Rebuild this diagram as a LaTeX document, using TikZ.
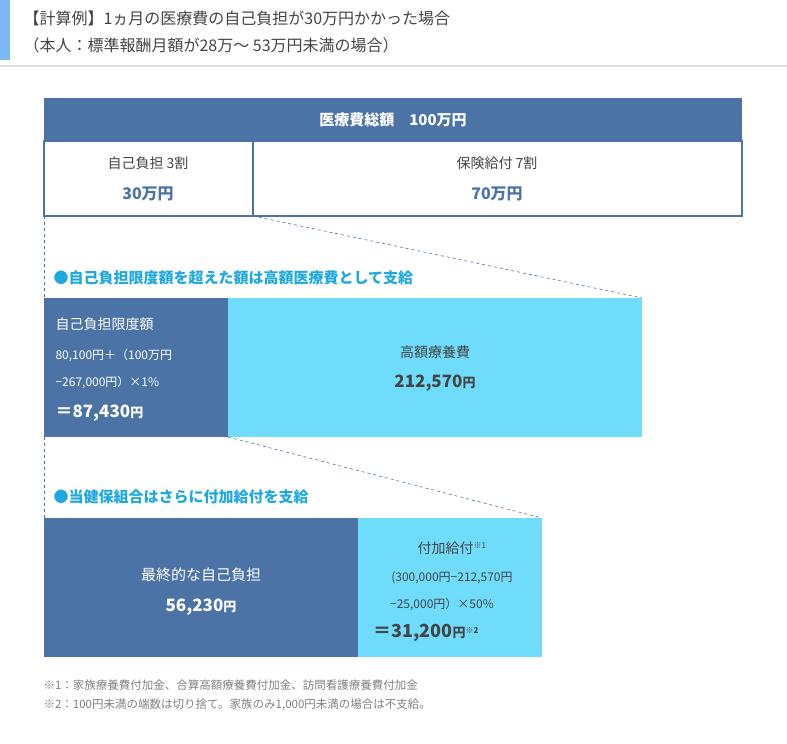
\documentclass[tikz,border=0pt]{standalone}
\usepackage{fontspec}
\setmainfont{Noto Sans CJK JP}
\usetikzlibrary{positioning}
\definecolor{darkblue}{HTML}{4C73A6}
\definecolor{lightcyan}{HTML}{6FDCFC}
\definecolor{capblue}{HTML}{1FA8E0}
\definecolor{textgray}{HTML}{444444}
\definecolor{sidebar}{HTML}{7BB8F4}
\begin{document}
\begin{tikzpicture}[x=1pt,y=-1pt,
		darkbox/.style={fill=darkblue,draw=none},
		lightbox/.style={fill=lightcyan,draw=none},
		cellbox/.style={draw=darkblue,line width=1.2pt,fill=white},
		guide/.style={darkblue,dashed,line width=0.6pt},
		caption/.style={anchor=west,text=capblue,font=\fontsize{15}{18}\selectfont\bfseries},
		note/.style={anchor=west,text=gray,font=\fontsize{11.5}{14}\selectfont}
	]
	\useasboundingbox (0,0) rectangle (787,744);

	% Title block
	\fill[sidebar] (0,0) rectangle (10,60);
	\draw[black!12,line width=1.5pt] (0,66) -- (787,66);
	\node[anchor=west,text=textgray,font=\fontsize{16}{19}\selectfont] (title1) at (20,18) {【計算例】1ヵ月の医療費の自己負担が30万円かかった場合};
	\node[anchor=west,text=textgray,font=\fontsize{16}{19}\selectfont] (title2) at (20,45) {（本人：標準報酬月額が28万～ 53万円未満の場合）};

	% Top table
	\path[darkbox] (44,98) rectangle (742,141);
	\node[text=white,font=\fontsize{15}{18}\selectfont\bfseries] (total) at (393,120) {医療費総額　100万円};
	\path[cellbox] (44,141) rectangle (253,216);
	\path[cellbox] (253,141) rectangle (742,216);
	\coordinate (selfBL) at (44,216);
	\coordinate (selfBR) at (253,216);
	\node[text=textgray,font=\fontsize{14}{17}\selectfont] (selflabel) at (148,163) {自己負担 3割};
	\node[text=darkblue,font=\fontsize{16}{19}\selectfont\bfseries] (selfval) at (148,194) {30万円};
	\node[text=textgray,font=\fontsize{14}{17}\selectfont] (inslabel) at (497,163) {保険給付 7割};
	\node[text=darkblue,font=\fontsize{16}{19}\selectfont\bfseries] (insval) at (497,194) {70万円};

	% Second row
	\node[caption] (cap1) at (50,278) {●自己負担限度額を超えた額は高額医療費として支給};
	\path[darkbox] (44,298) rectangle (228,437);
	\path[lightbox] (228,298) rectangle (642,437);
	\coordinate (limitTL) at (44,298);
	\coordinate (highTR) at (642,298);
	\coordinate (limitBL) at (44,437);
	\coordinate (limitBR) at (228,437);
	\draw[guide] (selfBL) -- (limitTL);
	\draw[guide] (selfBR) -- (highTR);
	\node[anchor=west,text=white,font=\fontsize{14}{17}\selectfont] (limitlabel) at (52,324) {自己負担限度額};
	\node[anchor=west,text=white,font=\fontsize{12}{14}\selectfont] (limitcalc1) at (52,355) {80,100円＋（100万円};
	\node[anchor=west,text=white,font=\fontsize{12}{14}\selectfont] (limitcalc2) at (52,382) {−267,000円）×1\%};
	\node[anchor=west,text=white,font=\fontsize{17}{20}\selectfont\bfseries] (limitval) at (52,413) {＝87,430\fontsize{13}{15}\selectfont 円};
	\node[text=textgray,font=\fontsize{14}{17}\selectfont] (highlabel) at (435,352) {高額療養費};
	\node[text=textgray,font=\fontsize{17}{20}\selectfont\bfseries] (highval) at (435,383) {212,570\fontsize{13}{15}\selectfont 円};

	% Third row
	\node[caption] (cap2) at (50,497) {●当健保組合はさらに付加給付を支給};
	\path[darkbox] (44,518) rectangle (358,657);
	\path[lightbox] (358,518) rectangle (542,657);
	\coordinate (finalTL) at (44,518);
	\coordinate (extraTR) at (542,518);
	\draw[guide] (limitBL) -- (finalTL);
	\draw[guide] (limitBR) -- (extraTR);
	\node[text=white,font=\fontsize{15}{18}\selectfont] (finallabel) at (201,575) {最終的な自己負担};
	\node[text=white,font=\fontsize{17}{20}\selectfont\bfseries] (finalval) at (201,607) {56,230\fontsize{13}{15}\selectfont 円};
	\node[text=textgray,font=\fontsize{14}{17}\selectfont] (extralabel) at (452,548) {付加給付\textsuperscript{\fontsize{8}{9}\selectfont ※1}};
	\node[text=textgray,font=\fontsize{12}{14}\selectfont] (extracalc1) at (452,578) {(300,000円−212,570円};
	\node[text=textgray,font=\fontsize{12}{14}\selectfont] (extracalc2) at (442,604) {−25,000円）×50\%};
	\node[anchor=west,text=textgray,font=\fontsize{18}{21}\selectfont\bfseries] (extraval) at (370,633) {＝31,200\fontsize{13}{15}\selectfont 円\textsuperscript{\fontsize{8}{9}\selectfont ※2}};

	% Notes
	\node[note] (note1) at (40,685) {※1：家族療養費付加金、合算高額療養費付加金、訪問看護療養費付加金};
	\node[note] (note2) at (40,705) {※2：100円未満の端数は切り捨て。家族のみ1,000円未満の場合は不支給。};
\end{tikzpicture}
\end{document}
